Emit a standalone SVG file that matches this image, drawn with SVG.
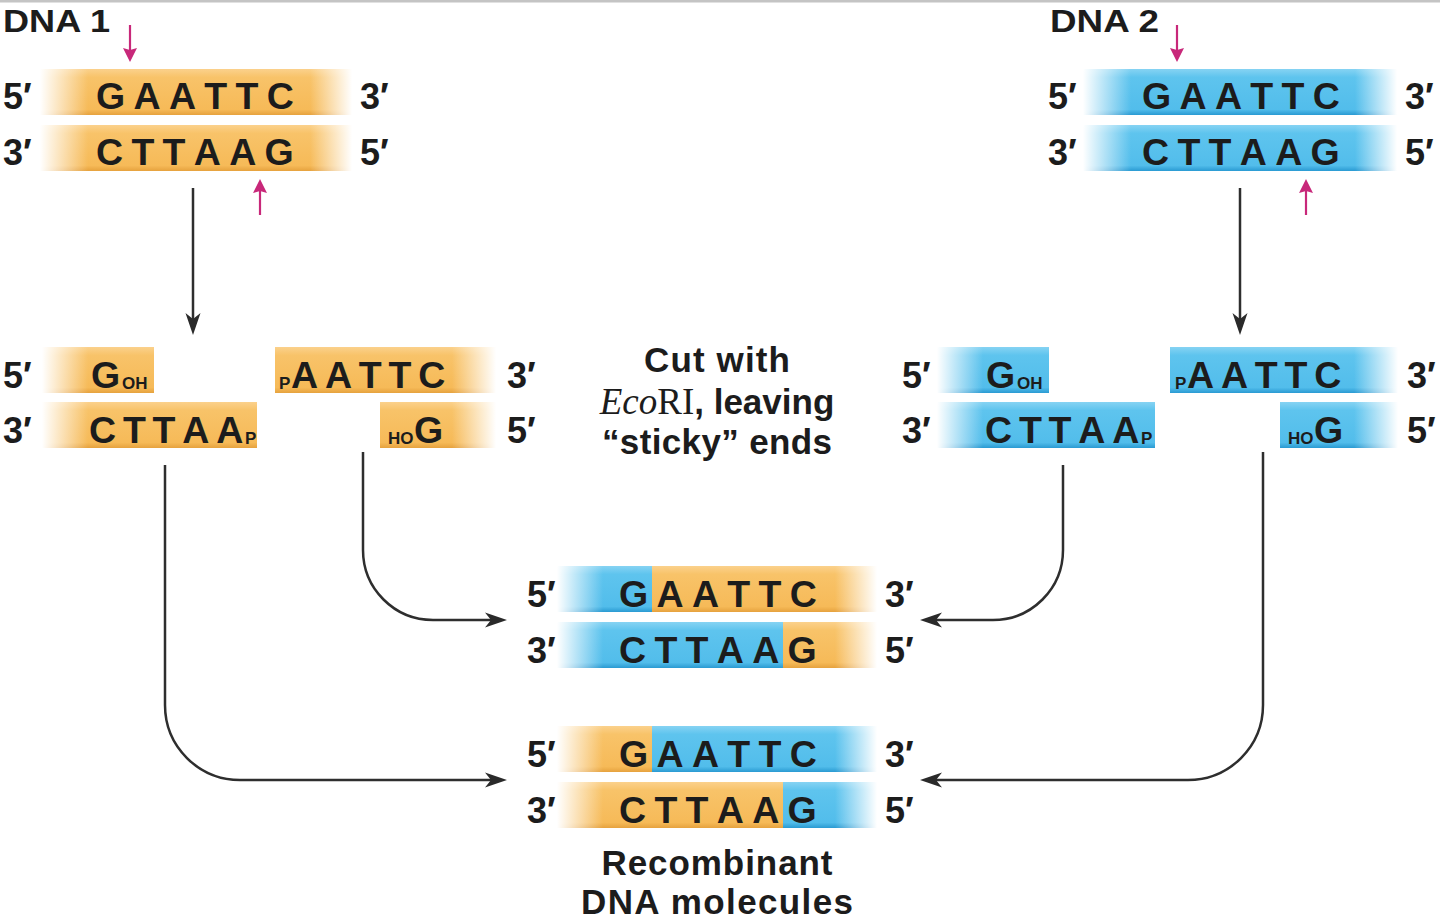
<svg xmlns="http://www.w3.org/2000/svg" width="1440" height="924" viewBox="0 0 1440 924">
<defs>
<style>
.t{font-family:"Liberation Sans",Arial,Helvetica,sans-serif;font-weight:bold;fill:#1c1c1c}
.seq{font-size:37.5px}
.pr{font-size:36px}
.sub{font-size:17px}
.lbl{font-size:35px}
.or{fill:url(#gOr)}
.bl{fill:url(#gBl)}
.fl{fill:url(#fadeL)}
.fr{fill:url(#fadeR)}
.con{fill:none;stroke:#2e2e2e;stroke-width:2.5;marker-end:url(#ah)}
.cut{fill:none;stroke:#c8287a;stroke-width:2.2;marker-end:url(#mh)}
</style>
<linearGradient id="gOr" x1="0" y1="0" x2="0" y2="1">
<stop offset="0" stop-color="#FBD18C"/>
<stop offset="0.18" stop-color="#F8C369"/>
<stop offset="0.88" stop-color="#F6BA58"/>
<stop offset="1" stop-color="#E6A23E"/>
</linearGradient>
<linearGradient id="gBl" x1="0" y1="0" x2="0" y2="1">
<stop offset="0" stop-color="#86D3F3"/>
<stop offset="0.18" stop-color="#5EC4EE"/>
<stop offset="0.88" stop-color="#52BDEB"/>
<stop offset="1" stop-color="#2A9AD2"/>
</linearGradient>
<linearGradient id="fadeL" x1="0" y1="0" x2="1" y2="0">
<stop offset="0" stop-color="#fff" stop-opacity="1"/>
<stop offset="1" stop-color="#fff" stop-opacity="0"/>
</linearGradient>
<linearGradient id="fadeR" x1="0" y1="0" x2="1" y2="0">
<stop offset="0" stop-color="#fff" stop-opacity="0"/>
<stop offset="1" stop-color="#fff" stop-opacity="1"/>
</linearGradient>
<marker id="ah" markerUnits="userSpaceOnUse" markerWidth="30" markerHeight="20" viewBox="-16 -10 30 20" refX="0" refY="0" orient="auto">
<path d="M8,0 L-14,-7.5 L-8,0 L-14,7.5 Z" fill="#2a2a2a"/>
</marker>
<marker id="mh" markerUnits="userSpaceOnUse" markerWidth="24" markerHeight="18" viewBox="-12 -9 24 18" refX="0" refY="0" orient="auto">
<path d="M6,0 L-8,-7 L-6,0 L-8,7 Z" fill="#c8287a"/>
</marker>
</defs>

<rect x="0" y="0" width="1440" height="2.5" fill="#c4c4c4"/>

<g id="dna1">
<text class="t" x="3" y="32" font-size="32" textLength="107" lengthAdjust="spacingAndGlyphs">DNA 1</text>
<rect class="or" x="40" y="69" width="312" height="46"/>
<rect class="fl" x="40" y="69" width="48" height="46"/>
<rect class="fr" x="310" y="69" width="42" height="46"/>
<rect class="or" x="40" y="125" width="312" height="46"/>
<rect class="fl" x="40" y="125" width="48" height="46"/>
<rect class="fr" x="310" y="125" width="42" height="46"/>
<text class="t pr" x="3" y="109">5′</text>
<text class="t pr" x="360" y="109">3′</text>
<text class="t pr" x="3" y="165">3′</text>
<text class="t pr" x="360" y="165">5′</text>
<text class="t seq" x="96 133.5 168.9 204.3 235.5 266.7" y="109">GAATTC</text>
<text class="t seq" x="96 131.4 162.6 193.8 229.2 264.6" y="165">CTTAAG</text>
</g>

<g id="dna2">
<text class="t" x="1050" y="32" font-size="32" textLength="109" lengthAdjust="spacingAndGlyphs">DNA 2</text>
<rect class="bl" x="1083" y="69" width="314" height="46"/>
<rect class="fl" x="1083" y="69" width="48" height="46"/>
<rect class="fr" x="1355" y="69" width="42" height="46"/>
<rect class="bl" x="1083" y="125" width="314" height="46"/>
<rect class="fl" x="1083" y="125" width="48" height="46"/>
<rect class="fr" x="1355" y="125" width="42" height="46"/>
<text class="t pr" x="1048" y="109">5′</text>
<text class="t pr" x="1405" y="109">3′</text>
<text class="t pr" x="1048" y="165">3′</text>
<text class="t pr" x="1405" y="165">5′</text>
<text class="t seq" x="1142 1179.5 1214.9 1250.3 1281.5 1312.7" y="109">GAATTC</text>
<text class="t seq" x="1142 1177.4 1208.6 1239.8 1275.2 1310.6" y="165">CTTAAG</text>
</g>

<g id="cut-sites">
<path class="cut" d="M130,25 L130,56"/>
<path class="cut" d="M260,215 L260,185"/>
<path class="cut" d="M1177,25 L1177,56"/>
<path class="cut" d="M1306,215 L1306,185"/>
</g>

<g id="frag1-left">
<rect class="or" x="42" y="347" width="112" height="46"/>
<rect class="fl" x="42" y="347" width="46" height="46"/>
<rect class="or" x="42" y="402" width="215" height="46"/>
<rect class="fl" x="42" y="402" width="46" height="46"/>
<text class="t pr" x="3" y="388">5′</text>
<text class="t pr" x="3" y="443">3′</text>
<text class="t seq" x="91" y="388">G</text>
<text class="t sub" x="122" y="389">OH</text>
<text class="t seq" x="89 122.9 152.6 182.3 216.2" y="443">CTTAA</text>
<text class="t sub" x="245" y="444">P</text>
</g>

<g id="frag1-right">
<rect class="or" x="275" y="347" width="221" height="46"/>
<rect class="fr" x="452" y="347" width="44" height="46"/>
<rect class="or" x="380" y="402" width="116" height="46"/>
<rect class="fr" x="452" y="402" width="44" height="46"/>
<text class="t sub" x="279" y="389">P</text>
<text class="t seq" x="291 324.9 358.8 388.5 418.2" y="388">AATTC</text>
<text class="t sub" x="388" y="444">HO</text>
<text class="t seq" x="414" y="443">G</text>
<text class="t pr" x="507" y="388">3′</text>
<text class="t pr" x="507" y="443">5′</text>
</g>

<g id="label-cut">
<text class="t lbl" x="717" y="372" text-anchor="middle" textLength="146">Cut with</text>
<text class="t lbl" x="717" y="414" text-anchor="middle"><tspan font-family="'Liberation Serif','Times New Roman',serif" font-style="italic" font-weight="normal" font-size="37">Eco</tspan><tspan font-family="'Liberation Serif','Times New Roman',serif" font-weight="normal" font-size="37">RI</tspan>, leaving</text>
<text class="t lbl" x="717" y="454" text-anchor="middle" textLength="230">“sticky” ends</text>
</g>

<g id="frag2-left">
<rect class="bl" x="937" y="347" width="112" height="46"/>
<rect class="fl" x="937" y="347" width="46" height="46"/>
<rect class="bl" x="937" y="402" width="218" height="46"/>
<rect class="fl" x="937" y="402" width="46" height="46"/>
<text class="t pr" x="902" y="388">5′</text>
<text class="t pr" x="902" y="443">3′</text>
<text class="t seq" x="986" y="388">G</text>
<text class="t sub" x="1017" y="389">OH</text>
<text class="t seq" x="985 1018.9 1048.6 1078.3 1112.2" y="443">CTTAA</text>
<text class="t sub" x="1141" y="444">P</text>
</g>

<g id="frag2-right">
<rect class="bl" x="1170" y="347" width="228" height="46"/>
<rect class="fr" x="1354" y="347" width="44" height="46"/>
<rect class="bl" x="1280" y="402" width="118" height="46"/>
<rect class="fr" x="1354" y="402" width="44" height="46"/>
<text class="t sub" x="1175" y="389">P</text>
<text class="t seq" x="1187 1220.9 1254.8 1284.5 1314.2" y="388">AATTC</text>
<text class="t sub" x="1288" y="444">HO</text>
<text class="t seq" x="1314" y="443">G</text>
<text class="t pr" x="1407" y="388">3′</text>
<text class="t pr" x="1407" y="443">5′</text>
</g>

<g id="recombinant1">
<rect class="bl" x="557" y="566" width="96" height="46"/>
<rect class="or" x="652" y="566" width="225" height="46"/>
<rect class="fl" x="557" y="566" width="46" height="46"/>
<rect class="fr" x="835" y="566" width="42" height="46"/>
<rect class="bl" x="557" y="622" width="227" height="46"/>
<rect class="or" x="783" y="622" width="94" height="46"/>
<rect class="fl" x="557" y="622" width="46" height="46"/>
<rect class="fr" x="835" y="622" width="42" height="46"/>
<text class="t pr" x="527" y="607">5′</text>
<text class="t pr" x="885" y="607">3′</text>
<text class="t pr" x="527" y="663">3′</text>
<text class="t pr" x="885" y="663">5′</text>
<text class="t seq" x="619 656.5 691.9 727.3 758.5 789.7" y="607">GAATTC</text>
<text class="t seq" x="619 654.4 685.6 716.8 752.2 787.6" y="663">CTTAAG</text>
</g>

<g id="recombinant2">
<rect class="or" x="557" y="726" width="96" height="46"/>
<rect class="bl" x="652" y="726" width="225" height="46"/>
<rect class="fl" x="557" y="726" width="46" height="46"/>
<rect class="fr" x="835" y="726" width="42" height="46"/>
<rect class="or" x="557" y="782" width="227" height="46"/>
<rect class="bl" x="783" y="782" width="94" height="46"/>
<rect class="fl" x="557" y="782" width="46" height="46"/>
<rect class="fr" x="835" y="782" width="42" height="46"/>
<text class="t pr" x="527" y="767">5′</text>
<text class="t pr" x="885" y="767">3′</text>
<text class="t pr" x="527" y="823">3′</text>
<text class="t pr" x="885" y="823">5′</text>
<text class="t seq" x="619 656.5 691.9 727.3 758.5 789.7" y="767">GAATTC</text>
<text class="t seq" x="619 654.4 685.6 716.8 752.2 787.6" y="823">CTTAAG</text>
</g>

<g id="label-recombinant">
<text class="t lbl" x="717" y="875" text-anchor="middle" textLength="231">Recombinant</text>
<text class="t lbl" x="717" y="914" text-anchor="middle" textLength="272">DNA molecules</text>
</g>

<g id="connectors">
<path class="con" d="M193,188 L193,327"/>
<path class="con" d="M1240,188 L1240,327"/>
<path class="con" d="M165,465 L165,705 A75,75 0 0 0 240,780 L499,780"/>
<path class="con" d="M363,452 L363,550 A70,70 0 0 0 433,620 L499,620"/>
<path class="con" d="M1063,465 L1063,550 A70,70 0 0 1 993,620 L928,620"/>
<path class="con" d="M1263,452 L1263,705 A75,75 0 0 1 1188,780 L928,780"/>
</g>
</svg>
